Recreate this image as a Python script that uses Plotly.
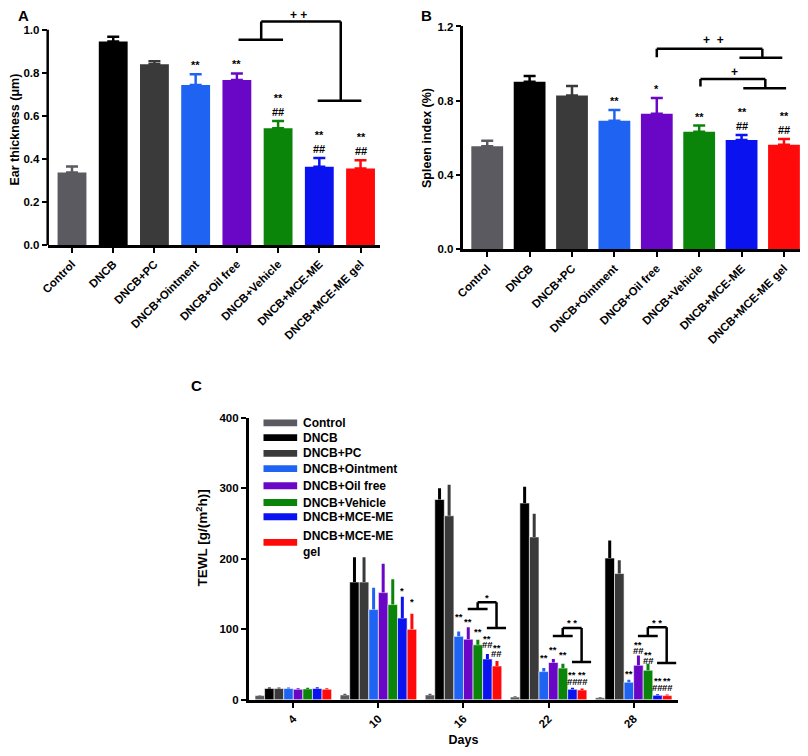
import plotly.graph_objects as go

# ---------------- data ----------------
groups = ["Control", "DNCB", "DNCB+PC", "DNCB+Ointment", "DNCB+Oil free",
          "DNCB+Vehicle", "DNCB+MCE-ME", "DNCB+MCE-ME gel"]
legend_names = ["Control", "DNCB", "DNCB+PC", "DNCB+Ointment", "DNCB+Oil free",
                "DNCB+Vehicle", "DNCB+MCE-ME", "DNCB+MCE-ME<br>gel"]
colors = ["#5a5a60", "#000000", "#3a3a3a", "#1f63f2", "#6a06c6",
          "#0a850a", "#0a12f0", "#ff0a0a"]

# Panel A: ear thickness (um)
ear_mean = [0.338, 0.945, 0.840, 0.744, 0.767, 0.543, 0.364, 0.356]
ear_err = [0.027, 0.023, 0.014, 0.049, 0.030, 0.034, 0.041, 0.038]
ear_sig = ["", "", "", "**", "**", "**<br>##", "**<br>##", "**<br>##"]

# Panel B: spleen index (%)
spleen_mean = [0.556, 0.903, 0.829, 0.693, 0.730, 0.633, 0.589, 0.563]
spleen_err = [0.029, 0.030, 0.051, 0.057, 0.085, 0.034, 0.027, 0.031]
spleen_sig = ["", "", "", "**", "*", "**", "**<br>##", "**<br>##"]

# Panel C: TEWL [g/(m2h)] per day
days = [4, 10, 16, 22, 28]
tewl_mean = [
    [6, 7, 7, 4, 3],
    [16, 167, 284, 279, 201],
    [16, 167, 261, 231, 179],
    [16, 128, 90, 40, 25],
    [15, 152, 86, 53, 49],
    [15.5, 135, 78, 45, 42],
    [16, 116, 58, 15, 6.5],
    [15, 100, 48, 14, 6],
]
tewl_err = [
    [1, 1.5, 1.5, 1, 1],
    [1.5, 35, 16, 23, 25],
    [1.5, 35, 44, 33, 19],
    [1.5, 31, 7, 5, 3.5],
    [1.5, 41, 17, 5, 14],
    [1.5, 36, 7, 6, 9],
    [2, 30, 7, 2, 1.5],
    [1.5, 22, 7, 2, 1.5],
]
# significance labels for panel C: day, group index, text, label height
tewl_sig_day = [10, 10, 16, 16, 16, 16, 16, 16, 16,
                22, 22, 22, 22, 22, 22, 22,
                28, 28, 28, 28, 28, 28, 28, 28, 28]
tewl_sig_grp = [6, 7, 3, 4, 5, 6, 6, 7, 7,
                3, 4, 5, 6, 6, 7, 7,
                3, 4, 4, 5, 5, 6, 6, 7, 7]
tewl_sig_txt = ["*", "*", "**", "**", "**", "**", "##", "**", "##",
                "**", "**", "**", "**", "##", "**", "##",
                "**", "**", "##", "**", "##", "**", "##", "**", "##"]
tewl_sig_y = [158, 142, 121, 114, 99, 90, 79, 77, 65,
              63, 74.5, 66.5, 38.5, 25.5, 38.5, 25.5,
              40.5, 81, 70, 66.5, 56, 30, 17.5, 30, 17.5]
# comparison brackets in panel C: days, label, left level, top level, right level
brk_days = [16, 22, 28]
brk_text = ["*", "* *", "* *"]
brk_left = [128.7, 90.6, 90.6]
brk_top = [138.5, 102, 103]
brk_right = [102, 53.5, 52.3]

# ---------------- layout helpers ----------------
# the page adds an 8 px body margin, so the figure is 800x748 and
# screen pixel positions are converted with that offset
OFF = 8
W, H = 808 - OFF, 756 - OFF
FONT = "Arial, Liberation Sans, Helvetica, sans-serif"


def fx(p):
    return (p - OFF) / W


def fy(p):
    return 1 - (p - OFF) / H


fig = go.Figure()
idx = list(range(len(groups)))

# Panel A bars (one trace per bar so error bars share the bar colour)
for i in idx:
    fig.add_trace(go.Bar(
        x=[i], y=[ear_mean[i]], width=0.7, offsetgroup="A", name=groups[i],
        marker=dict(color=colors[i], line=dict(width=0)),
        error_y=dict(type="data", array=[ear_err[i]], arrayminus=[0], symmetric=False,
                     color=colors[i], thickness=2.5, width=6),
        xaxis="x", yaxis="y", showlegend=False, hoverinfo="skip"))
# Panel B bars
for i in idx:
    fig.add_trace(go.Bar(
        x=[i], y=[spleen_mean[i]], width=0.75, offsetgroup="B", name=groups[i],
        marker=dict(color=colors[i], line=dict(width=0)),
        error_y=dict(type="data", array=[spleen_err[i]], arrayminus=[0], symmetric=False,
                     color=colors[i], thickness=2.5, width=6),
        xaxis="x2", yaxis="y2", showlegend=False, hoverinfo="skip"))
# Panel C grouped bars
for g in idx:
    fig.add_trace(go.Bar(
        x=days, y=tewl_mean[g], name=groups[g],
        marker=dict(color=colors[g], line=dict(width=0.6, color="white")),
        error_y=dict(type="data", array=tewl_err[g], arrayminus=[0] * len(days),
                     symmetric=False, color=colors[g], thickness=3, width=0),
        xaxis="x3", yaxis="y3", showlegend=False, hoverinfo="skip"))

tickfont = dict(family=FONT, size=11.5, color="black", weight="bold")
axis_common = dict(showline=True, linewidth=2.5, linecolor="black", ticks="outside",
                   ticklen=5, tickwidth=2, tickcolor="black", showgrid=False,
                   zeroline=False, tickfont=tickfont, fixedrange=True)
title_font = dict(family=FONT, size=12.5, color="black", weight="bold")

fig.update_layout(
    width=W, height=H, margin=dict(l=0, r=0, t=0, b=0),
    paper_bgcolor="white", plot_bgcolor="white",
    barmode="group", bargap=0.1, bargroupgap=0,
    font=dict(family=FONT, color="black"),
    showlegend=False,
    xaxis=dict(axis_common, domain=[fx(40), fx(376)], range=[-0.59, 7.48],
               tickvals=idx, ticktext=groups, tickangle=-45, anchor="y"),
    yaxis=dict(axis_common, domain=[fy(243), fy(OFF)], range=[0, (243 - OFF) / 219],
               showline=False,
               tickvals=[0, 0.2, 0.4, 0.6, 0.8, 1.0],
               ticktext=["0.0", "0.2", "0.4", "0.6", "0.8", "1.0"], anchor="x",
               title=dict(text="Ear thickness (μm)", font=title_font, standoff=4)),
    xaxis2=dict(axis_common, domain=[fx(460), fx(806)], range=[-0.56, 7.52],
                tickvals=idx, ticktext=groups, tickangle=-45, anchor="y2"),
    yaxis2=dict(axis_common, domain=[fy(247.3), fy(20.7)], range=[0, 1.2],
                tickvals=[0, 0.4, 0.8, 1.2], ticktext=["0.0", "0.4", "0.8", "1.2"],
                anchor="x2",
                title=dict(text="Spleen index (%)", font=title_font, standoff=4)),
    xaxis3=dict(axis_common, domain=[fx(243), fx(677)], range=[0.85, 31.15],
                tickvals=days, ticktext=[str(d) for d in days], tickangle=-45,
                anchor="y3",
                title=dict(text="Days", font=title_font, standoff=7)),
    yaxis3=dict(axis_common, domain=[fy(705), fy(418.3)], range=[0, 400],
                tickvals=[0, 100, 200, 300, 400], anchor="x3"),
)

shapes = []
annotations = []
LW = 2.5


def seg(xr, yr, x0, y0, x1, y1):
    shapes.append(dict(type="line", xref=xr, yref=yr, x0=x0, y0=y0, x1=x1, y1=y1,
                       line=dict(color="black", width=LW)))


# Panel A: y-axis line only up to 1.0
shapes.append(dict(type="line", xref="x domain", yref="y", x0=0, x1=0, y0=0, y1=1.0,
                   line=dict(color="black", width=2.5)))

# Panel A bracket
seg("x", "y", 4.04, 0.954, 5.12, 0.954)
seg("x", "y", 4.59, 0.954, 4.59, 1.038)
seg("x", "y", 4.59, 1.038, 6.52, 1.038)
seg("x", "y", 6.52, 1.038, 6.52, 0.671)
seg("x", "y", 5.96, 0.671, 7.02, 0.671)
annotations.append(dict(x=5.5, y=1.068, xref="x", yref="y", text="+ +", showarrow=False,
                        font=dict(family=FONT, size=12, weight="bold")))

# Panel B brackets
seg("x2", "y2", 4.0, 1.035, 4.0, 1.080)
seg("x2", "y2", 4.0, 1.080, 6.49, 1.080)
seg("x2", "y2", 6.49, 1.080, 6.49, 1.032)
seg("x2", "y2", 5.95, 1.032, 6.96, 1.032)
annotations.append(dict(x=5.34, y=1.127, xref="x2", yref="y2", text="+  +", showarrow=False,
                        font=dict(family=FONT, size=12, weight="bold")))
seg("x2", "y2", 5.03, 0.877, 5.03, 0.917)
seg("x2", "y2", 5.03, 0.917, 6.56, 0.917)
seg("x2", "y2", 6.56, 0.917, 6.56, 0.868)
seg("x2", "y2", 6.04, 0.868, 7.05, 0.868)
annotations.append(dict(x=5.83, y=0.956, xref="x2", yref="y2", text="+", showarrow=False,
                        font=dict(family=FONT, size=12, weight="bold")))

# significance labels A / B
sigfont = dict(family=FONT, size=11, color="black", weight="bold")
for i in idx:
    if ear_sig[i]:
        annotations.append(dict(x=i, y=ear_mean[i] + ear_err[i], xref="x", yref="y",
                                text=ear_sig[i], showarrow=False, yanchor="bottom",
                                yshift=1, font=sigfont))
    if spleen_sig[i]:
        annotations.append(dict(x=i, y=spleen_mean[i] + spleen_err[i], xref="x2", yref="y2",
                                text=spleen_sig[i], showarrow=False, yanchor="bottom",
                                yshift=1, font=sigfont))

# panel C labels
bw = 6 * 0.9 / len(groups)
csig = dict(family=FONT, size=9.5, color="black", weight="bold")
for d, g, t, yv in zip(tewl_sig_day, tewl_sig_grp, tewl_sig_txt, tewl_sig_y):
    xv = d + (g - 3.5) * bw
    annotations.append(dict(x=xv, y=yv, xref="x3", yref="y3", text=t, showarrow=False,
                            yanchor="middle", yshift=-2 if "*" in t else 0, font=csig))

# panel C brackets
for d, t, yl, yt, yr in zip(brk_days, brk_text, brk_left, brk_top, brk_right):
    seg("x3", "y3", d + 0.3, yl, d + 1.7, yl)
    seg("x3", "y3", d + 1.0, yl, d + 1.0, yt)
    seg("x3", "y3", d + 1.0, yt, d + 2.33, yt)
    seg("x3", "y3", d + 2.33, yt, d + 2.33, yr)
    seg("x3", "y3", d + 1.65, yr, d + 3.0, yr)
    annotations.append(dict(x=d + 1.67, y=yt + 10, xref="x3", yref="y3", text=t,
                            showarrow=False, yanchor="middle", yshift=-2, font=csig))

# panel C y-axis title
annotations.append(dict(x=fx(196), y=fy(541), xref="paper", yref="paper",
                        text="TEWL [g/(m<sup>2</sup>h)]", textangle=-90, showarrow=False,
                        xanchor="center", yanchor="middle",
                        font=dict(family=FONT, size=13.5, color="black", weight="bold")))

# panel C legend (wide swatches + labels)
leg_rows = [423.5, 438.5, 454.5, 470, 487.5, 504.5, 519, 545]
for g in idx:
    c = leg_rows[g]
    shapes.append(dict(type="rect", xref="paper", yref="paper",
                       x0=fx(258), x1=fx(292), y0=fy(c + 3.5), y1=fy(c - 3.5),
                       fillcolor=colors[g], line=dict(width=0)))
    annotations.append(dict(x=fx(296), y=fy(c + (1.5 if g == 7 else 0)),
                            xref="paper", yref="paper",
                            text=legend_names[g], showarrow=False, align="left",
                            xanchor="left", yanchor="middle",
                            font=dict(family=FONT, size=12, color="black", weight="bold")))

# panel letters
for lab, px, py in [("A", 8.5, 10), ("B", 423, 10), ("C", 190, 386)]:
    annotations.append(dict(x=fx(px), y=fy(py), xref="paper", yref="paper", text=lab,
                            showarrow=False, xanchor="left" if lab == "A" else "center",
                            yanchor="middle",
                            font=dict(family=FONT, size=15, color="black", weight="bold")))

fig.update_layout(shapes=shapes, annotations=annotations)
fig.write_html("out.html")
